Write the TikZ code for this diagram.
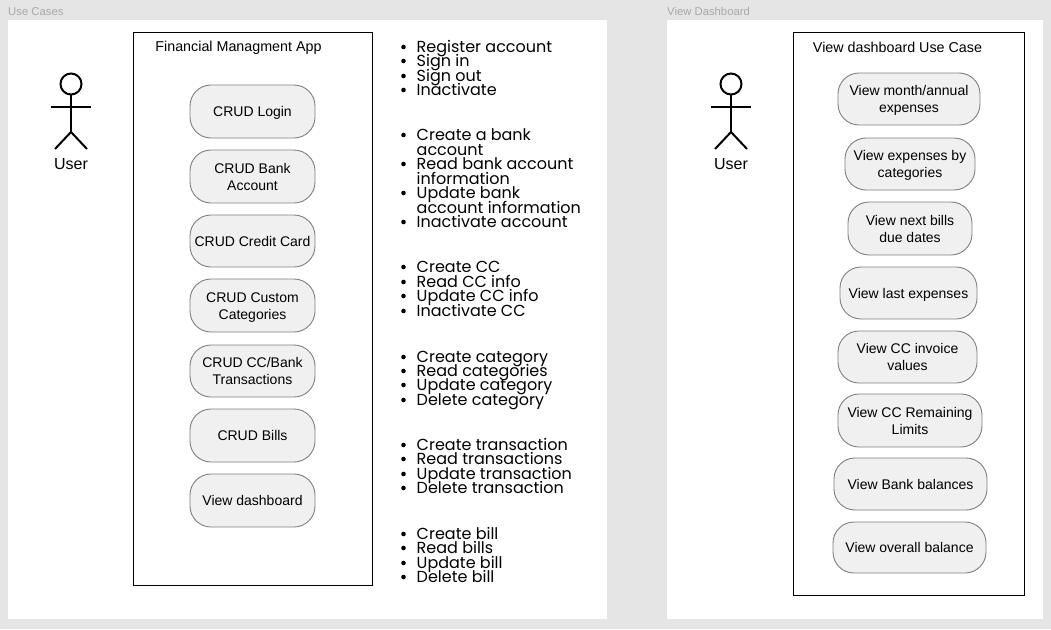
\documentclass[tikz,border=0pt]{standalone}
\usepackage{fontspec}
\setmainfont{Liberation Sans}
\newfontfamily\listfont{Poppins}
\definecolor{pagebg}{HTML}{E5E5E5}
\definecolor{pillfill}{HTML}{F0F0F0}
\definecolor{pillline}{HTML}{808080}
\definecolor{framelabel}{HTML}{A8A8A8}
\tikzset{
  x=1pt,y=-1pt,
  panel/.style={fill=white,draw=none},
  sysbox/.style={draw=black,line width=1pt,fill=none},
  pill/.style={draw=pillline,line width=0.9pt,fill=pillfill,rounded corners=21pt,align=center,font=\fontsize{14}{17}\selectfont,text=black,inner sep=0pt},
  title/.style={font=\fontsize{14.3}{17}\selectfont,text=black},
  framelab/.style={font=\fontsize{11.3}{12}\selectfont,text=framelabel,anchor=base west,inner sep=0pt},
  actorline/.style={draw=black,line width=2pt},
  actorlab/.style={font=\fontsize{16}{17}\selectfont,text=black,inner sep=0pt},
  listitem/.style={font=\listfont\fontsize{16}{15}\selectfont,text=black,anchor=base west,inner sep=0pt},
}
\newcommand{\pillat}[6]{\node[pill,minimum width=#3pt-#2pt,minimum height=#5pt-#4pt] (#1) at ({(#2+#3)/2},{(#4+#5)/2}) {\vbox{\kern3.5pt\hbox{\begin{tabular}{@{}c@{}}#6\end{tabular}}}};}
\newcommand{\actor}[2]{%
  \draw[actorline] (#1,#2) circle[radius=10.5];
  \draw[actorline] (#1,#2+10.5) -- (#1,#2+48);
  \draw[actorline] (#1-20,#2+23) -- (#1+20,#2+23);
  \draw[actorline] (#1-16,#2+65) -- (#1,#2+48) -- (#1+16,#2+65);
}
\begin{document}
\setlength{\tabcolsep}{0pt}
\begin{tikzpicture}
\useasboundingbox[fill=pagebg] (0,0) rectangle (1051,629);
\fill[panel] (8,20) rectangle (606.5,619);
\fill[panel] (667,20) rectangle (1043,619);
\node[framelab] (lab1) at (8,15) {Use Cases};
\node[framelab] (lab2) at (667,15) {View Dashboard};
\draw[sysbox] (133.6,32) rectangle (372,585);
\draw[sysbox] (793.6,32) rectangle (1024,595);
\node[title] (t1) at (238.5,47.5) {Financial Managment App};
\node[title] (t2) at (897.5,47.5) {View dashboard Use Case};
\actor{71}{84}
\node[actorlab] (u1) at (71,164) {User};
\actor{731}{84}
\node[actorlab] (u2) at (731,164) {User};
\pillat{a1}{190}{315}{85}{138}{CRUD Login}
\pillat{a2}{190}{315}{150}{203}{CRUD Bank\\Account}
\pillat{a3}{190}{315}{215}{267}{CRUD Credit Card}
\pillat{a4}{190}{315}{279}{332}{CRUD Custom\\Categories}
\pillat{a5}{190}{315}{345}{397}{CRUD CC/Bank\\Transactions}
\pillat{a6}{190}{315}{409}{462}{CRUD Bills}
\pillat{a7}{190}{315}{474}{527}{View dashboard}
\pillat{b1}{838}{980}{73}{125}{View month/annual\\expenses}
\pillat{b2}{845}{975}{138}{190}{View expenses by\\categories}
\pillat{b3}{848}{972}{202}{255}{View next bills\\due dates}
\pillat{b4}{840}{977}{267}{319}{View last expenses}
\pillat{b5}{838}{977}{331}{383}{View CC invoice\\values}
\pillat{b6}{838}{982}{394}{447}{View CC Remaining\\Limits}
\pillat{b7}{834}{987}{458}{510}{View Bank balances}
\pillat{b8}{833}{986}{522}{573}{View overall balance}
\foreach \yy/\bb/\tt [count=\i] in {
 47/1/Register account,61/1/Sign in,76/1/Sign out,90/1/Inactivate,
 135/1/Create a bank,150/0/account,164/1/Read bank account,179/0/information,193/1/Update bank,208/0/account information,222/1/Inactivate account,
 267/1/Create CC,282/1/Read CC info,296/1/Update CC info,311/1/Inactivate CC,
 357/1/Create category,371/1/Read categories,385/1/Update category,400/1/Delete category,
 445/1/Create transaction,459/1/Read transactions,474/1/Update transaction,488/1/Delete transaction,
 534/1/Create bill,548/1/Read bills,563/1/Update bill,577/1/Delete bill}{
  \node[listitem] (li\i) at (416.5,\yy+5) {\tt};
  \ifnum\bb=1 \fill[black] (403.5,\yy) circle[radius=2.3]; \fi
}
\end{tikzpicture}
\end{document}
